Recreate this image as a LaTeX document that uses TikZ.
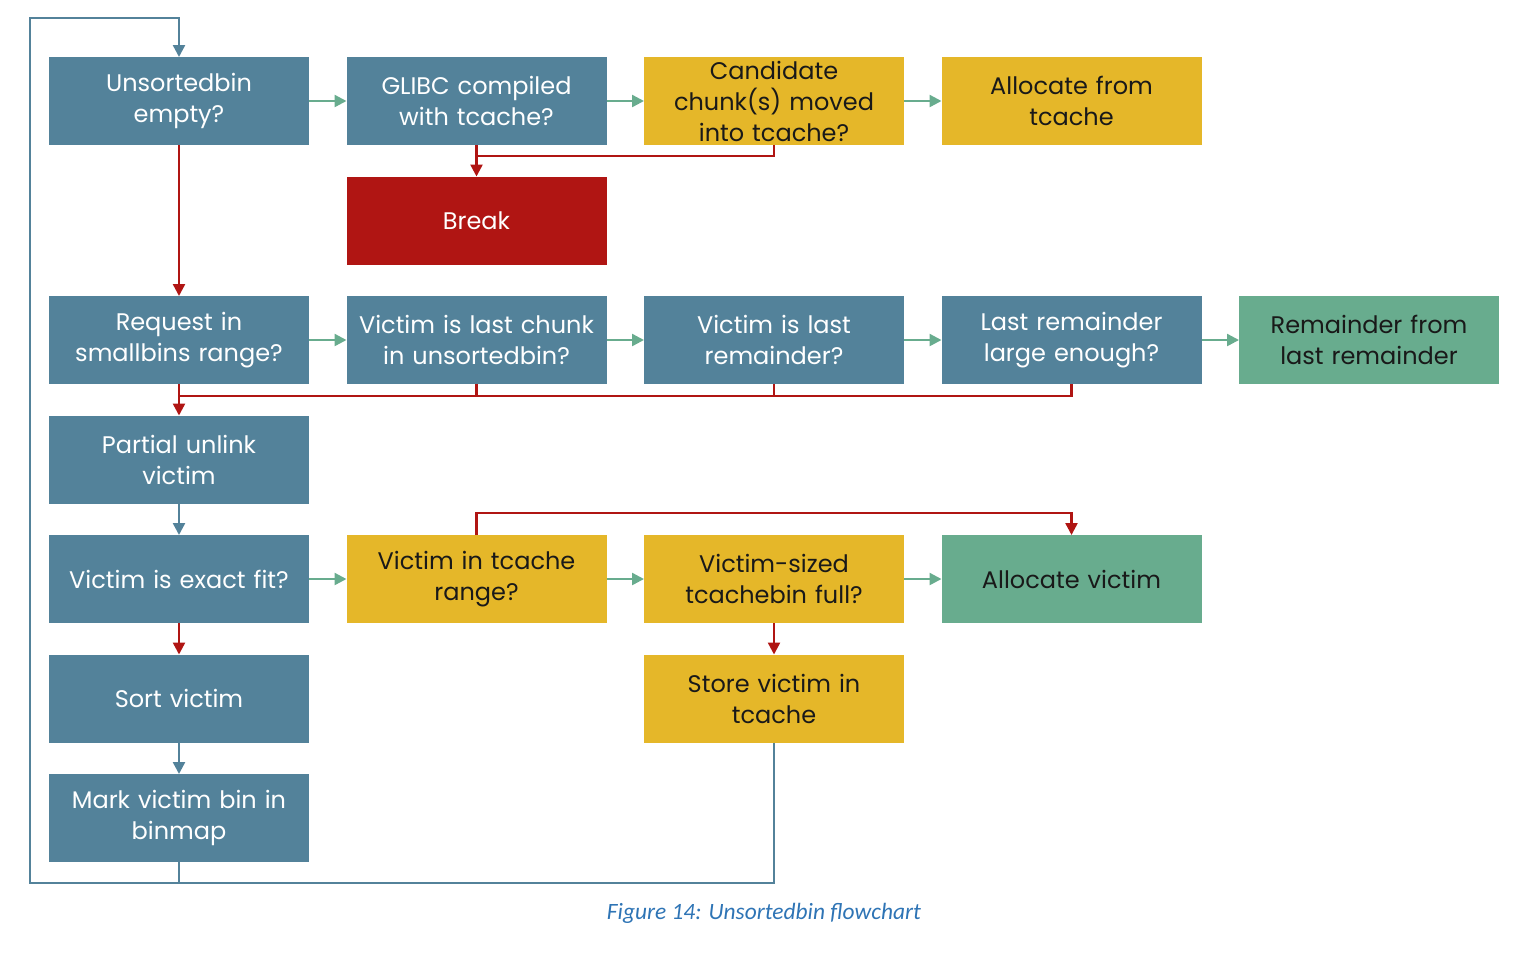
\documentclass[tikz,border=0pt]{standalone}
\usepackage{fontspec}
\setmainfont{Poppins}
\newfontfamily\capfont{Carlito}
\usetikzlibrary{arrows.meta, positioning}

\definecolor{boxblue}{RGB}{83,130,154}
\definecolor{boxyellow}{RGB}{229,183,41}
\definecolor{boxred}{RGB}{176,21,19}
\definecolor{boxgreen}{RGB}{104,172,142}
\definecolor{capblue}{RGB}{46,116,181}

\begin{document}
\begin{tikzpicture}[
    font=\fontsize{12}{15.5}\selectfont,
    box/.style       = {minimum width=130pt, minimum height=44pt, text width=126pt,
                        align=center, inner sep=2pt, outer sep=0pt},
    bluebox/.style   = {box, fill=boxblue, text=white},
    yellowbox/.style = {box, fill=boxyellow, text=black!90},
    redbox/.style    = {box, fill=boxred, text=white},
    greenbox/.style  = {box, fill=boxgreen, text=black!90},
    yes/.style       = {-{Triangle[length=6pt, width=6pt]}, boxgreen, line width=1.2pt},
    no/.style        = {-{Triangle[length=6pt, width=6pt]}, boxred, line width=1.2pt},
    noline/.style    = {boxred, line width=1.2pt},
    flow/.style      = {-{Triangle[length=6pt, width=6pt]}, boxblue, line width=1.2pt},
    flowline/.style  = {boxblue, line width=1.2pt},
    node distance    = 15.75pt and 18.75pt
]
\useasboundingbox (0,0) rectangle (764.5pt,-483pt);

%% -- Row 1 ------------------------------------------------------------------
\node[bluebox] (unsorted) at (89.5pt,-50.5pt) {Unsortedbin\\empty?};
\node[bluebox, right=of unsorted] (glibc) {GLIBC compiled\\with tcache?};
\node[yellowbox, right=of glibc] (cand) {Candidate\\chunk(s) moved\\into tcache?};
\node[yellowbox, right=of cand] (alloctc) {Allocate from\\tcache};
\node[redbox, below=of glibc] (brk) {Break};

%% -- Row 3 ------------------------------------------------------------------
\node[bluebox, below=of unsorted, yshift=-59.75pt] (request) {Request in\\smallbins range?};
\node[bluebox, right=of request] (vlast) {Victim is last chunk\\in unsortedbin?};
\node[bluebox, right=of vlast] (vrem) {Victim is last\\remainder?};
\node[bluebox, right=of vrem] (lastrem) {Last remainder\\large enough?};
\node[greenbox, right=of lastrem] (fromrem) {Remainder from\\last remainder};

%% -- Left column and victim handling ----------------------------------------
\node[bluebox, below=of request] (partial) {Partial unlink\\victim};
\node[bluebox, below=of partial] (exact) {Victim is exact fit?};
\node[yellowbox, right=of exact] (vtc) {Victim in tcache\\range?};
\node[yellowbox, right=of vtc] (tcfull) {Victim-sized\\tcachebin full?};
\node[greenbox, right=of tcfull] (allocv) {Allocate victim};
\node[yellowbox, below=of tcfull] (store) {Store victim in\\tcache};
\node[bluebox, below=of exact] (sort) {Sort victim};
\node[bluebox, below=of sort] (mark) {Mark victim bin in\\binmap};

%% -- Yes arrows -------------------------------------------------------------
\draw[yes] (unsorted) -- (glibc);
\draw[yes] (glibc) -- (cand);
\draw[yes] (cand) -- (alloctc);
\draw[yes] (request) -- (vlast);
\draw[yes] (vlast) -- (vrem);
\draw[yes] (vrem) -- (lastrem);
\draw[yes] (lastrem) -- (fromrem);
\draw[yes] (exact) -- (vtc);
\draw[yes] (vtc) -- (tcfull);
\draw[yes] (tcfull) -- (allocv);

%% -- No arrows --------------------------------------------------------------
\draw[no] (unsorted) -- (request);
\draw[no] (glibc) -- (brk);
\draw[noline] (cand.south) |- ([yshift=-5.5pt]glibc.south);
\draw[no] (request) -- (partial);
\draw[noline] (lastrem.south) |- ([yshift=-6pt]request.south);
\draw[noline] (vlast.south) -- ++(0,-6pt);
\draw[noline] (vrem.south) -- ++(0,-6pt);
\draw[no] (vtc.north) -- ++(0,11pt) -| (allocv.north);
\draw[no] (exact) -- (sort);
\draw[no] (tcfull) -- (store);

%% -- Plain flow and loop back -----------------------------------------------
\draw[flow] (partial) -- (exact);
\draw[flow] (sort) -- (mark);
\coordinate[below=10.5pt of mark.south] (lb);
\coordinate[above=19.5pt of unsorted.north] (lt);
\draw[flow] (mark.south) -- (lb) -- ([xshift=-9.5pt]lb -| mark.west) |- (lt) -- (unsorted.north);
\draw[flowline] (store.south) |- (lb);

%% -- Caption ----------------------------------------------------------------
\node[font=\capfont\itshape\fontsize{11.7}{13}\selectfont, text=capblue] (caption) at (382pt,-456.5pt)
    {Figure 14: Unsortedbin flowchart};

\end{tikzpicture}
\end{document}
